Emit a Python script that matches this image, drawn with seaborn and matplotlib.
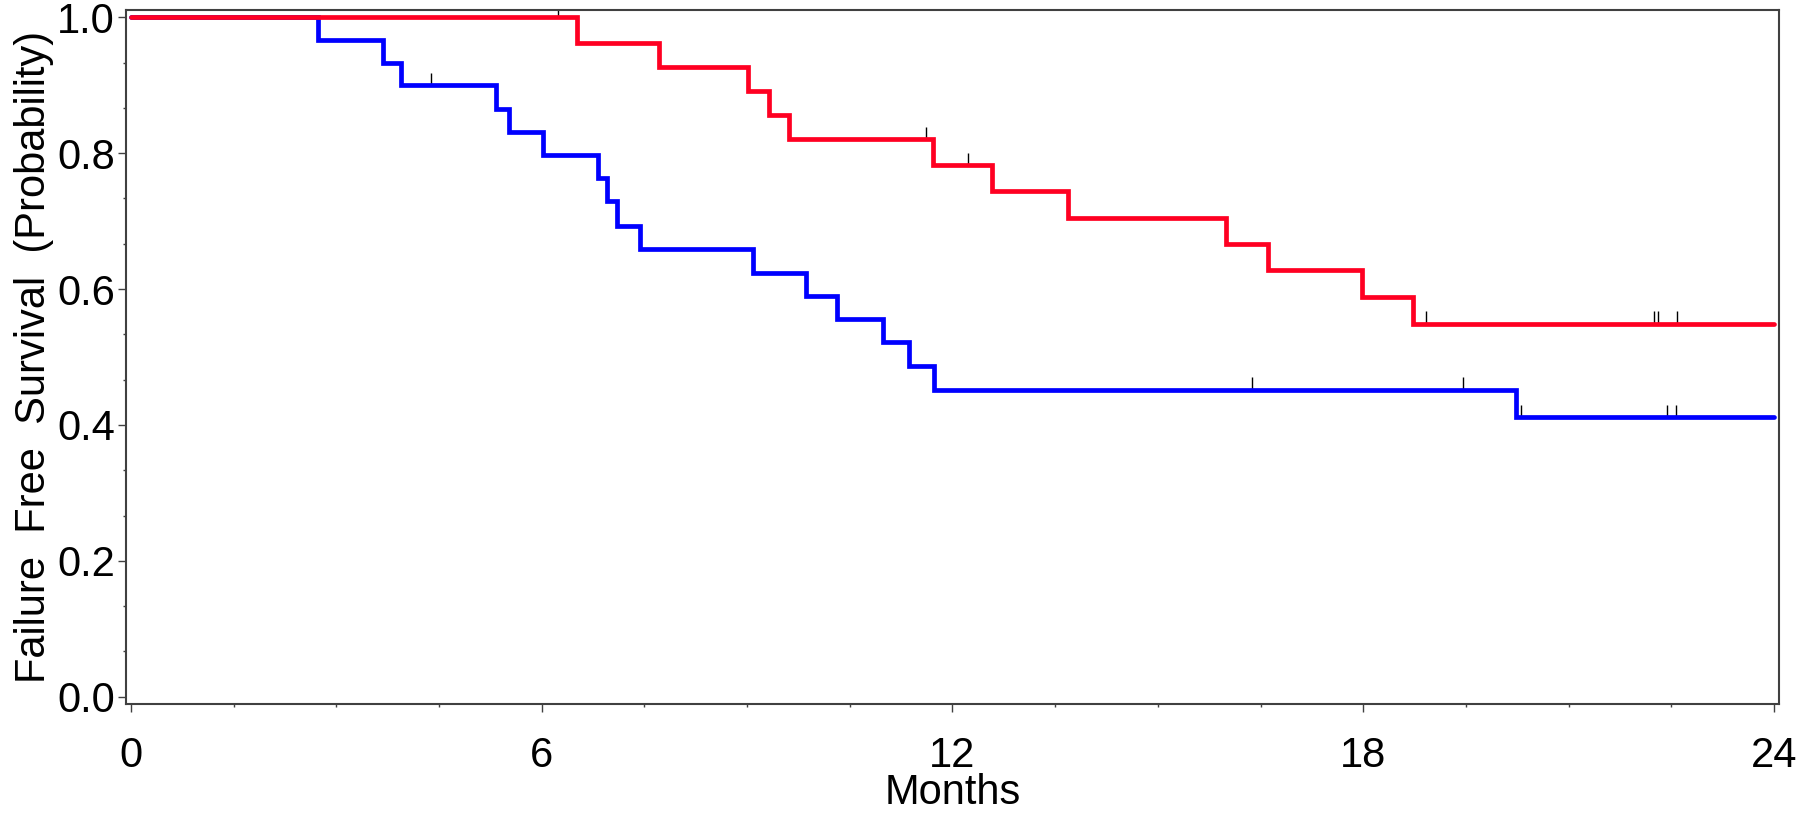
#!/usr/bin/env python3.12
# coding=utf-8

from matplotlib import pyplot as plt
from matplotlib.ticker import AutoMinorLocator, FixedLocator, FormatStrFormatter
import pandas as pd
import seaborn as sns

# Kaplan-Meier steps (months, survival probability)
red_months = [0, 6.51, 7.72, 9.02, 9.32, 9.61, 11.72, 12.58, 13.68, 15.99, 16.61, 17.98, 18.72, 24.0]
red_surv = [1.0, 0.962, 0.927, 0.891, 0.856, 0.821, 0.782, 0.744, 0.705, 0.666, 0.628, 0.588, 0.549, 0.549]

blue_months = [0, 2.74, 3.69, 3.94, 5.33, 5.52, 6.02, 6.83, 6.95, 7.10, 7.43, 9.09, 9.86,
               10.32, 10.98, 11.37, 11.73, 20.23, 24.0]
blue_surv = [1.0, 0.967, 0.933, 0.900, 0.865, 0.831, 0.798, 0.763, 0.729, 0.693, 0.659, 0.624, 0.590,
             0.556, 0.522, 0.487, 0.452, 0.412, 0.412]

# censored observations
red_cens_months = [6.24, 11.62, 12.22, 18.91, 22.25, 22.31, 22.58]
red_cens_surv = [1.0, 0.821, 0.782, 0.549, 0.549, 0.549, 0.549]
blue_cens_months = [4.38, 16.37, 19.45, 20.30, 22.43, 22.56]
blue_cens_surv = [0.900, 0.452, 0.452, 0.412, 0.412, 0.412]

x_ticks = [0, 6, 12, 18, 24]
y_ticks = [0.0, 0.2, 0.4, 0.6, 0.8, 1.0]

RED = '#ff0022'
BLUE = '#0000ff'
EDGE = '#404040'

sns.set_style('ticks')
plt.rcParams['font.family'] = ['Liberation Sans', 'DejaVu Sans']

fig = plt.figure(figsize=(18, 8.15), dpi=100)
ax = fig.add_axes([0.070, 0.1362, 0.9183, 0.8515])

df_blue = pd.DataFrame({'months': blue_months, 'survival': blue_surv})
df_red = pd.DataFrame({'months': red_months, 'survival': red_surv})

# censor ticks sit on top of the curve
tick_h = 0.018
ax.vlines(blue_cens_months, blue_cens_surv, [s + tick_h for s in blue_cens_surv],
          color='black', linewidth=1.0, zorder=1)
ax.vlines(red_cens_months, red_cens_surv, [s + tick_h for s in red_cens_surv],
          color='black', linewidth=1.0, zorder=1)

# blue first so the red curve lies on top where they overlap
for data, col in [(df_blue, BLUE), (df_red, RED)]:
    sns.lineplot(data=data, x='months', y='survival', ax=ax, color=col, estimator=None,
                 sort=False, drawstyle='steps-post', linewidth=3.4, legend=False,
                 solid_joinstyle='miter', zorder=2)

ax.set_xlim(-0.07, 24.07)
ax.set_ylim(-0.0107, 1.0107)

ax.xaxis.set_major_locator(FixedLocator(x_ticks))
ax.yaxis.set_major_locator(FixedLocator(y_ticks))
ax.yaxis.set_major_formatter(FormatStrFormatter('%.1f'))
ax.xaxis.set_minor_locator(AutoMinorLocator(4))
ax.yaxis.set_minor_locator(AutoMinorLocator(3))

ax.tick_params(axis='both', which='major', direction='out', length=6, width=1.0,
               color=EDGE, labelsize=30, labelcolor='black')
ax.tick_params(axis='x', which='major', pad=17)
ax.tick_params(axis='y', which='major', pad=2)
ax.tick_params(axis='both', which='minor', direction='out', length=2.5, width=1.0, color=EDGE)

ax.set_xlabel('Months', fontsize=30, labelpad=-2, color='black')
ax.set_ylabel('Failure  Free  Survival  (Probability)', fontsize=30, labelpad=2, color='black')

for side in ['left', 'right', 'top', 'bottom']:
    ax.spines[side].set_visible(True)
    ax.spines[side].set_color(EDGE)
    ax.spines[side].set_linewidth(1.5)

ax.set_facecolor('white')
fig.patch.set_facecolor('white')

fig.savefig('out.png', dpi=100)
